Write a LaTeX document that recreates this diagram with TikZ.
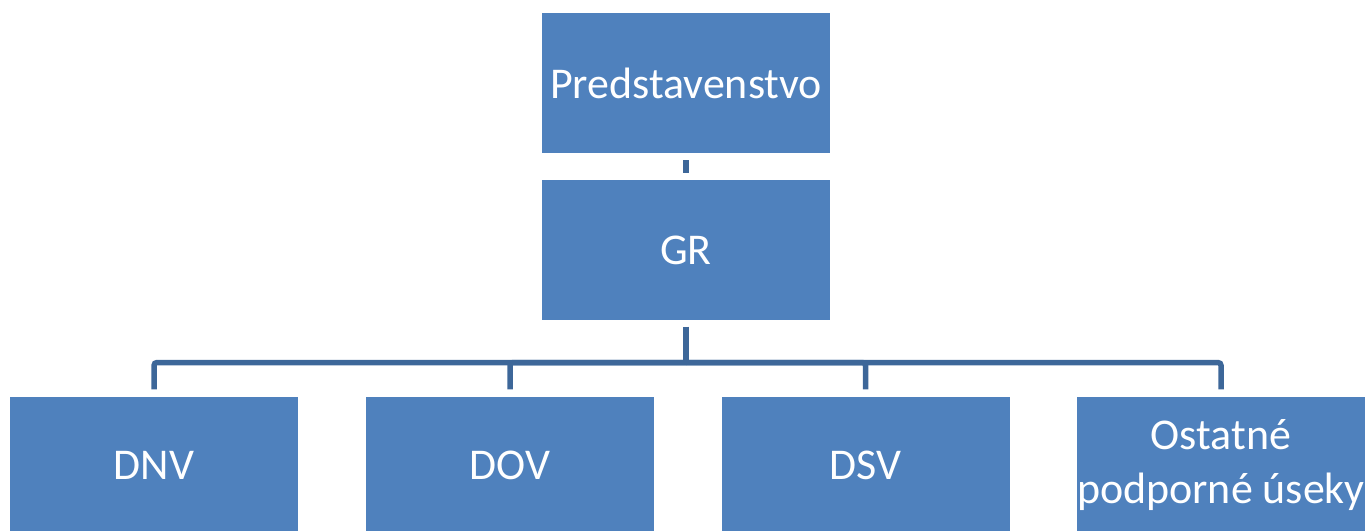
\documentclass[tikz,border=0pt]{standalone}
\usepackage{fontspec}
\setmainfont{Carlito}
\usepackage{tikz}
\definecolor{boxblue}{RGB}{79,129,189}
\definecolor{lineblue}{RGB}{61,103,153}
\tikzstyle{UnitNode}=[rectangle, fill=boxblue, text=white, align=center, minimum width=28.8mm, minimum height=14mm, inner sep=0pt, font=\fontsize{12.5}{15.4}\selectfont]
\tikzstyle{LowNode}=[UnitNode, minimum height=13.6mm]
\tikzstyle{LinkEdge}=[draw=lineblue, line width=0.55mm, rounded corners=0.3mm]
\tikzstyle{DownEdge}=[LinkEdge, shorten >=0.7mm]

\begin{document}
\begin{tikzpicture}[x=0.1mm, y=-0.1mm]
\useasboundingbox (0,0) rectangle (1371,530);
\node[UnitNode](PRED) at (686,83) {Predstavenstvo};
\node[UnitNode](GR) at (686,250) {GR};
\node[LowNode](DNV) at (154,465) {DNV};
\node[LowNode](DOV) at (510,465) {DOV};
\node[LowNode](DSV) at (865.5,465) {DSV};
\node[LowNode](OST) at (1221,465) {Ostatné\\podporné úseky};
\coordinate (BUS) at (686,362.5);

\draw[LinkEdge, shorten <=0.65mm, shorten >=0.65mm](PRED) -- (GR);
\draw[LinkEdge, shorten <=0.6mm](GR) -- (BUS);
\foreach \unit in {DNV,DOV,DSV,OST}
  \draw[DownEdge](BUS) -| (\unit.north);
\end{tikzpicture}
\end{document}
